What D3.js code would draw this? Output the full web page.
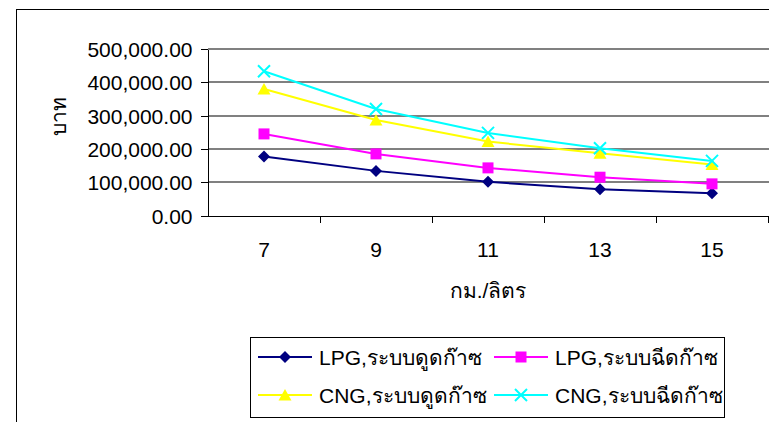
<!DOCTYPE html>
<html>
<head>
<meta charset="utf-8">
<script src="https://cdn.jsdelivr.net/npm/d3@7"></script>
<style>
	body { margin: 0; background: #fff; }
	svg { display: block; font-family: 'Liberation Sans', Arial, sans-serif; }
	.axis path, .axis line { stroke: #000; shape-rendering: crispEdges; }
	.axis text { fill: #000; font-size: 21px; }
	.grid line { stroke: #808080; stroke-width: 2; shape-rendering: crispEdges; }
</style>
</head>
<body>
<svg id="chart" width="769" height="422"></svg>
<script>
const CATEGORIES = ['7', '9', '11', '13', '15'];
const SERIES_NAMES = ['LPG,ระบบดูดก๊าซ', 'LPG,ระบบฉีดก๊าซ', 'CNG,ระบบดูดก๊าซ', 'CNG,ระบบฉีดก๊าซ'];
const LPG_SUCTION = [177000, 134000, 101000, 79000, 67000];
const LPG_INJECT = [245000, 185000, 143000, 115000, 95000];
const CNG_SUCTION = [380000, 287000, 222000, 187000, 153000];
const CNG_INJECT = [433000, 320000, 248000, 202000, 164000];
const Y_TICKS = [0, 100000, 200000, 300000, 400000, 500000];
const Y_TITLE = 'บาท';
const X_TITLE = 'กม./ลิตร';

const COLORS = ['#000080', '#ff00ff', '#ffff00', '#00ffff'];
const FONT_SIZE = 21;

const series = [LPG_SUCTION, LPG_INJECT, CNG_SUCTION, CNG_INJECT].map((values, i) => ({
	name: SERIES_NAMES[i],
	color: COLORS[i],
	values: values.map((v, j) => ({ cat: CATEGORIES[j], value: v }))
}));

const svg = d3.select('#chart');

// outer chart frame (cropped on the right and bottom)
svg.append('rect')
	.attr('x', 16.5).attr('y', 9.5)
	.attr('width', 800).attr('height', 500)
	.attr('fill', 'none').attr('stroke', '#000');

const x = d3.scaleBand().domain(CATEGORIES).range([208, 768]);
const y = d3.scaleLinear().domain([0, 500000]).range([215.5, 49]);

// gridlines
svg.append('g')
	.attr('class', 'grid')
	.selectAll('line')
	.data(Y_TICKS.slice(1))
	.join('line')
	.attr('x1', 208).attr('x2', 769)
	.attr('y1', d => Math.round(y(d)))
	.attr('y2', d => Math.round(y(d)));

const fmt = d3.format(',.2f');

const axisY = d3.axisLeft(y)
	.tickValues(Y_TICKS)
	.tickFormat(fmt)
	.tickSizeInner(7)
	.tickSizeOuter(0)
	.tickPadding(8);

svg.append('g')
	.attr('class', 'axis axis--y')
	.attr('transform', 'translate(207.5, 0)')
	.call(axisY)
	.call(g => g.selectAll('.tick text').attr('dy', '0.36em'));

// x axis with ticks at category boundaries
const axisXg = svg.append('g')
	.attr('class', 'axis axis--x')
	.attr('transform', `translate(0, ${Math.round(y(0)) + 0.5})`);

axisXg.append('line')
	.attr('x1', 207).attr('x2', 769);

axisXg.selectAll('.bound')
	.data(CATEGORIES)
	.join('line')
	.attr('class', 'bound')
	.attr('x1', d => Math.round(x(d) + x.bandwidth()) + 0.5)
	.attr('x2', d => Math.round(x(d) + x.bandwidth()) + 0.5)
	.attr('y1', 0).attr('y2', 6);

axisXg.selectAll('.lbl')
	.data(CATEGORIES)
	.join('text')
	.attr('class', 'lbl')
	.attr('x', d => x(d) + x.bandwidth() / 2)
	.attr('y', 40)
	.attr('text-anchor', 'middle')
	.text(d => d);

// axis titles
svg.append('text')
	.attr('transform', 'translate(66, 116) rotate(-90)')
	.attr('text-anchor', 'middle')
	.attr('font-size', FONT_SIZE)
	.text(Y_TITLE);

svg.append('text')
	.attr('x', 488).attr('y', 298)
	.attr('text-anchor', 'middle')
	.attr('font-size', FONT_SIZE)
	.text(X_TITLE);

// lines
const line = d3.line()
	.x(d => x(d.cat) + x.bandwidth() / 2)
	.y(d => y(d.value));

function symbolPath(i) {
	if (i === 0) return 'M0,-6L6,0L0,6L-6,0Z';
	if (i === 1) return 'M-5.5,-5.5H5.5V5.5H-5.5Z';
	if (i === 2) return 'M0,-6L6.5,5.5H-6.5Z';
	return 'M-6,-6L6,6M-6,6L6,-6';
}

const g = svg.append('g').attr('class', 'g-graphic');

g.selectAll('.series-line')
	.data(series)
	.join('path')
	.attr('class', 'series-line')
	.attr('fill', 'none')
	.attr('stroke', d => d.color)
	.attr('stroke-width', 2)
	.attr('d', d => line(d.values));

series.forEach((s, i) => {
	g.selectAll(`.mark-${i}`)
		.data(s.values)
		.join('path')
		.attr('class', `mark-${i}`)
		.attr('transform', d => `translate(${x(d.cat) + x.bandwidth() / 2}, ${y(d.value)})`)
		.attr('d', symbolPath(i))
		.attr('fill', i === 3 ? 'none' : s.color)
		.attr('stroke', i === 3 ? s.color : 'none')
		.attr('stroke-width', 2);
});

// legend
const legend = svg.append('g').attr('transform', 'translate(250, 337)');

legend.append('rect')
	.attr('x', 0.5).attr('y', 0.5)
	.attr('width', 474).attr('height', 80)
	.attr('fill', '#fff').attr('stroke', '#000');

const item = legend.selectAll('.item')
	.data(series)
	.join('g')
	.attr('class', 'item')
	.attr('transform', (d, i) => `translate(${(i % 2) * 236 + 8}, ${Math.floor(i / 2) * 38 + 20})`);

item.append('line')
	.attr('x1', 0).attr('x2', 54)
	.attr('stroke', d => d.color)
	.attr('stroke-width', 2);

item.append('path')
	.attr('transform', 'translate(27, 0)')
	.attr('d', (d, i) => symbolPath(i))
	.attr('fill', (d, i) => i === 3 ? 'none' : d.color)
	.attr('stroke', (d, i) => i === 3 ? d.color : 'none')
	.attr('stroke-width', 2);

item.append('text')
	.attr('x', 61)
	.attr('y', 0)
	.attr('dy', '0.36em')
	.attr('font-size', FONT_SIZE)
	.text(d => d.name);
</script>
</body>
</html>
